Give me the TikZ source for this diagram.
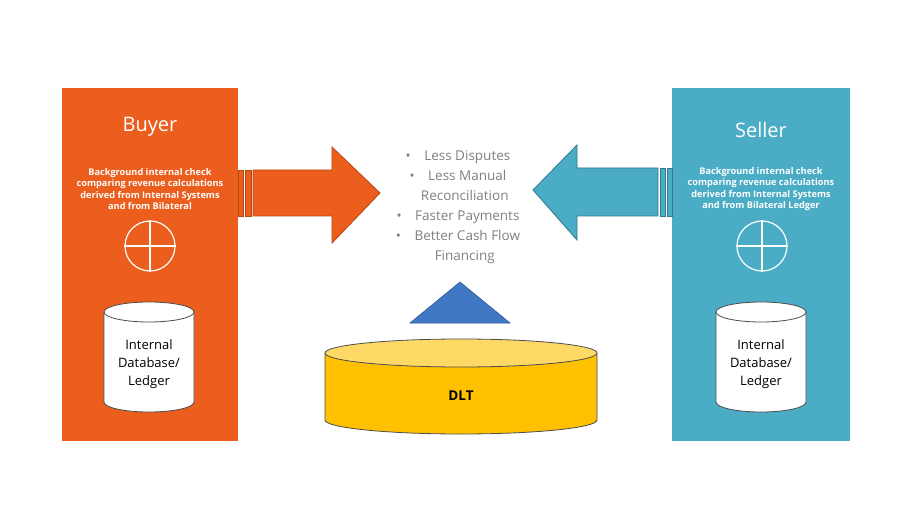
\documentclass[tikz,border=0pt]{standalone}
\usepackage{fontspec}
\setmainfont{Open Sans}
\begin{document}
\begin{tikzpicture}[x=1pt,y=-1pt,
  wt/.style={text=white,font=\bfseries\fontsize{9.2}{11.5}\selectfont,align=center},
  cyl/.style={draw=black!70,line width=0.8pt,fill=white}]
\definecolor{org}{HTML}{EB5E1E}
\definecolor{orgd}{HTML}{B5480F}
\definecolor{sea}{HTML}{4BACC6}
\definecolor{sead}{HTML}{31788C}
\definecolor{gold}{HTML}{FFC000}
\definecolor{goldl}{HTML}{FFD966}
\definecolor{tri}{RGB}{65,120,196}
\definecolor{trid}{RGB}{47,85,151}
\useasboundingbox (0,0) rectangle (897,505);
% boxes
\fill[org] (62,88) rectangle (238,441);
\fill[sea] (672,88) rectangle (850,441);
\node[text=white,font=\fontsize{20}{24}\selectfont] (buyer) at (150,127) {Buyer};
\node[text=white,font=\fontsize{20}{24}\selectfont] (seller) at (761,130) {Seller};
\node[wt] (bt) at (150,189) {Background internal check\\comparing revenue calculations\\derived from Internal Systems\\and from Bilateral};
\node[wt] (st) at (761,189) {Background internal check\\comparing revenue calculations\\derived from Internal Systems\\and from Bilateral Ledger};
% circles
\foreach \n/\cx in {bc/150,sc/762}{
  \node[circle,draw=white,line width=1.2pt,minimum size=50pt,inner sep=0pt] (\n) at (\cx,246) {};
  \draw[white,line width=1.2pt] (\n.north) -- (\n.south) (\n.west) -- (\n.east);}
% cylinders
\foreach \n/\cx in {bd/149,sd/761}{
  \draw[cyl] (\cx-45,312) -- (\cx-45,402) arc[start angle=180,end angle=0,x radius=45,y radius=10] -- (\cx+45,312);
  \draw[cyl] (\cx,312) ellipse[x radius=45,y radius=10];
  \node[font=\fontsize{13}{18}\selectfont,align=center] (\n) at (\cx,364) {Internal\\Database/\\Ledger};}
% orange arrow
\draw[orgd,fill=org,line width=0.8pt] (238,170) rectangle (243,216);
\draw[orgd,fill=org,line width=0.8pt] (245,170) rectangle (251,216);
\draw[orgd,fill=org,line width=0.8pt] (253,170) -- (332,170) -- (332,147) -- (380,193) -- (332,243) -- (332,216) -- (253,216) -- cycle;
% blue arrow
\draw[sead,fill=sea,line width=0.8pt] (660,168) rectangle (665,216);
\draw[sead,fill=sea,line width=0.8pt] (667,168) rectangle (672,216);
\draw[sead,fill=sea,line width=0.8pt] (658,168) -- (577,168) -- (577,145) -- (533,190) -- (577,240) -- (577,216) -- (658,216) -- cycle;
% bullets
\node[text=black!50,font=\fontsize{13.5}{20}\selectfont,align=center] (list) at (458,207)
 {\textbullet\quad Less Disputes\\\textbullet\quad Less Manual\\\hspace{1em}Reconciliation\\\textbullet\quad Faster Payments\\\textbullet\quad Better Cash Flow\\\hspace{1em}Financing};
% triangle
\draw[fill=tri,draw=trid,line width=0.6pt] (410,323) -- (510,323) -- (460,282) -- cycle;
% DLT cylinder
\draw[cyl,fill=gold] (325,353) -- (325,420) arc[start angle=180,end angle=0,x radius=136,y radius=14] -- (597,353);
\draw[cyl,fill=goldl] (461,353) ellipse[x radius=136,y radius=14];
\node[font=\bfseries\fontsize{13.5}{16}\selectfont] (dlt) at (461,396) {DLT};
\end{tikzpicture}
\end{document}
